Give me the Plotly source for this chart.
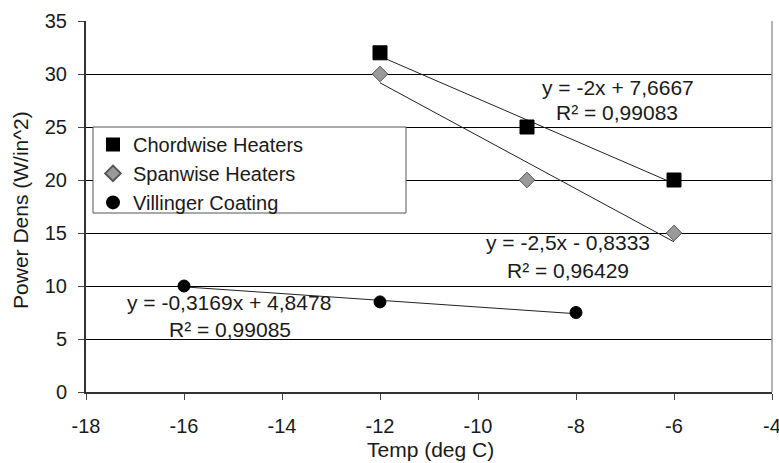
import plotly.graph_objects as go

# Data
chord_x = [-12, -9, -6]
chord_y = [32, 25, 20]
span_x = [-12, -9, -6]
span_y = [30, 20, 15]
vill_x = [-16, -12, -8]
vill_y = [10, 8.5, 7.5]

# Trendline coefficients (as printed on the chart)
chord_fit = (-2.0, 7.6667)
span_fit = (-2.5, -0.8333)
vill_fit = (-0.3169, 4.8478)

x_ticks = [-18, -16, -14, -12, -10, -8, -6, -4]
x_labels = ["-18", "-16", "-14", "-12", "-10", "-8", "-6", "-4"]
y_ticks = [0, 5, 10, 15, 20, 25, 30, 35]

FONT = "Liberation Sans, Arial, sans-serif"
TXT = "#1a1a1a"

fig = go.Figure()

def trend(xs, fit):
    x0, x1 = min(xs), max(xs)
    return [x0, x1], [fit[0] * x0 + fit[1], fit[0] * x1 + fit[1]]

for xs, fit in [(chord_x, chord_fit), (span_x, span_fit), (vill_x, vill_fit)]:
    tx, ty = trend(xs, fit)
    fig.add_trace(go.Scatter(x=tx, y=ty, mode="lines", line=dict(color="#222", width=1),
                             showlegend=False, hoverinfo="skip"))

fig.add_trace(go.Scatter(x=chord_x, y=chord_y, mode="markers", name="Chordwise Heaters",
                         marker=dict(symbol="square", size=14, color="black",
                                     line=dict(color="black", width=1))))
fig.add_trace(go.Scatter(x=span_x, y=span_y, mode="markers", name="Spanwise Heaters",
                         marker=dict(symbol="diamond", size=12, color="#9a9a9a",
                                     line=dict(color="#555", width=1))))
fig.add_trace(go.Scatter(x=vill_x, y=vill_y, mode="markers", name="Villinger Coating",
                         marker=dict(symbol="circle", size=12, color="black",
                                     line=dict(color="black", width=1))))

ann_font = dict(family=FONT, size=21, color=TXT)
anns = [
    (-7.14, 28.77, "y = -2x + 7,6667"), (-7.16, 26.35, "R² = 0,99083"),
    (-8.16, 14.06, "y = -2,5x - 0,8333"), (-8.16, 11.5, "R² = 0,96429"),
    (-15.08, 8.4, "y = -0,3169x + 4,8478"), (-15.06, 5.85, "R² = 0,99085"),
]
for ax_, ay_, t in anns:
    fig.add_annotation(x=ax_, y=ay_, text=t, showarrow=False, font=ann_font)

# axis titles
fig.add_annotation(xref="paper", yref="paper", x=0.5015, y=-0.156, text="Temp (deg C)",
                   xanchor="center", yanchor="middle",
                   showarrow=False, font=dict(family=FONT, size=21, color=TXT))
fig.add_annotation(xref="paper", yref="paper", x=-0.0948, y=0.4906, text="Power Dens (W/in^2)",
                   xanchor="center", yanchor="middle",
                   textangle=-90, showarrow=False, font=dict(family=FONT, size=21, color=TXT))

# legend box (white, covering gridlines)
fig.add_shape(type="rect", xref="paper", yref="paper",
              x0=(93 - 86) / 686, x1=(406 - 86) / 686,
              y0=(392 - 213) / 371, y1=(392 - 127) / 371,
              fillcolor="white", line=dict(color="#555", width=1), layer="above")

fig.update_layout(
    width=779, height=463,
    margin=dict(l=86, r=7, t=21, b=71),
    paper_bgcolor="white", plot_bgcolor="white",
    font=dict(family=FONT, size=18, color=TXT),
    showlegend=True,
    legend=dict(x=0.0102, y=0.72, xanchor="left", yanchor="top",
                bgcolor="rgba(0,0,0,0)", borderwidth=0,
                font=dict(family=FONT, size=20, color=TXT),
                tracegroupgap=0, itemsizing="constant"),
    xaxis=dict(range=[-18, -4], tickvals=x_ticks, ticktext=x_labels, ticks="outside", ticklen=6,
               tickcolor="#444", showgrid=False, zeroline=False, showline=True,
               linecolor="#333", linewidth=1.5, automargin=False,
               ticklabeloverflow="allow", ticklabelstandoff=9,
               tickfont=dict(family=FONT, size=20, color=TXT)),
    yaxis=dict(range=[0, 35], tickvals=y_ticks, ticks="outside", ticklen=6,
               tickcolor="#444", showgrid=True, gridcolor="black", gridwidth=1,
               zeroline=False, showline=True, linecolor="#333", linewidth=2,
               automargin=False, ticklabelstandoff=7,
               tickfont=dict(family=FONT, size=20, color=TXT)),
)

fig.add_shape(type="line", xref="paper", yref="paper", x0=1, x1=1, y0=0, y1=1,
              line=dict(color="#999", width=1.5))

fig.write_html("out.html", config={"displayModeBar": False},
               post_script="document.body.style.margin='0';")
